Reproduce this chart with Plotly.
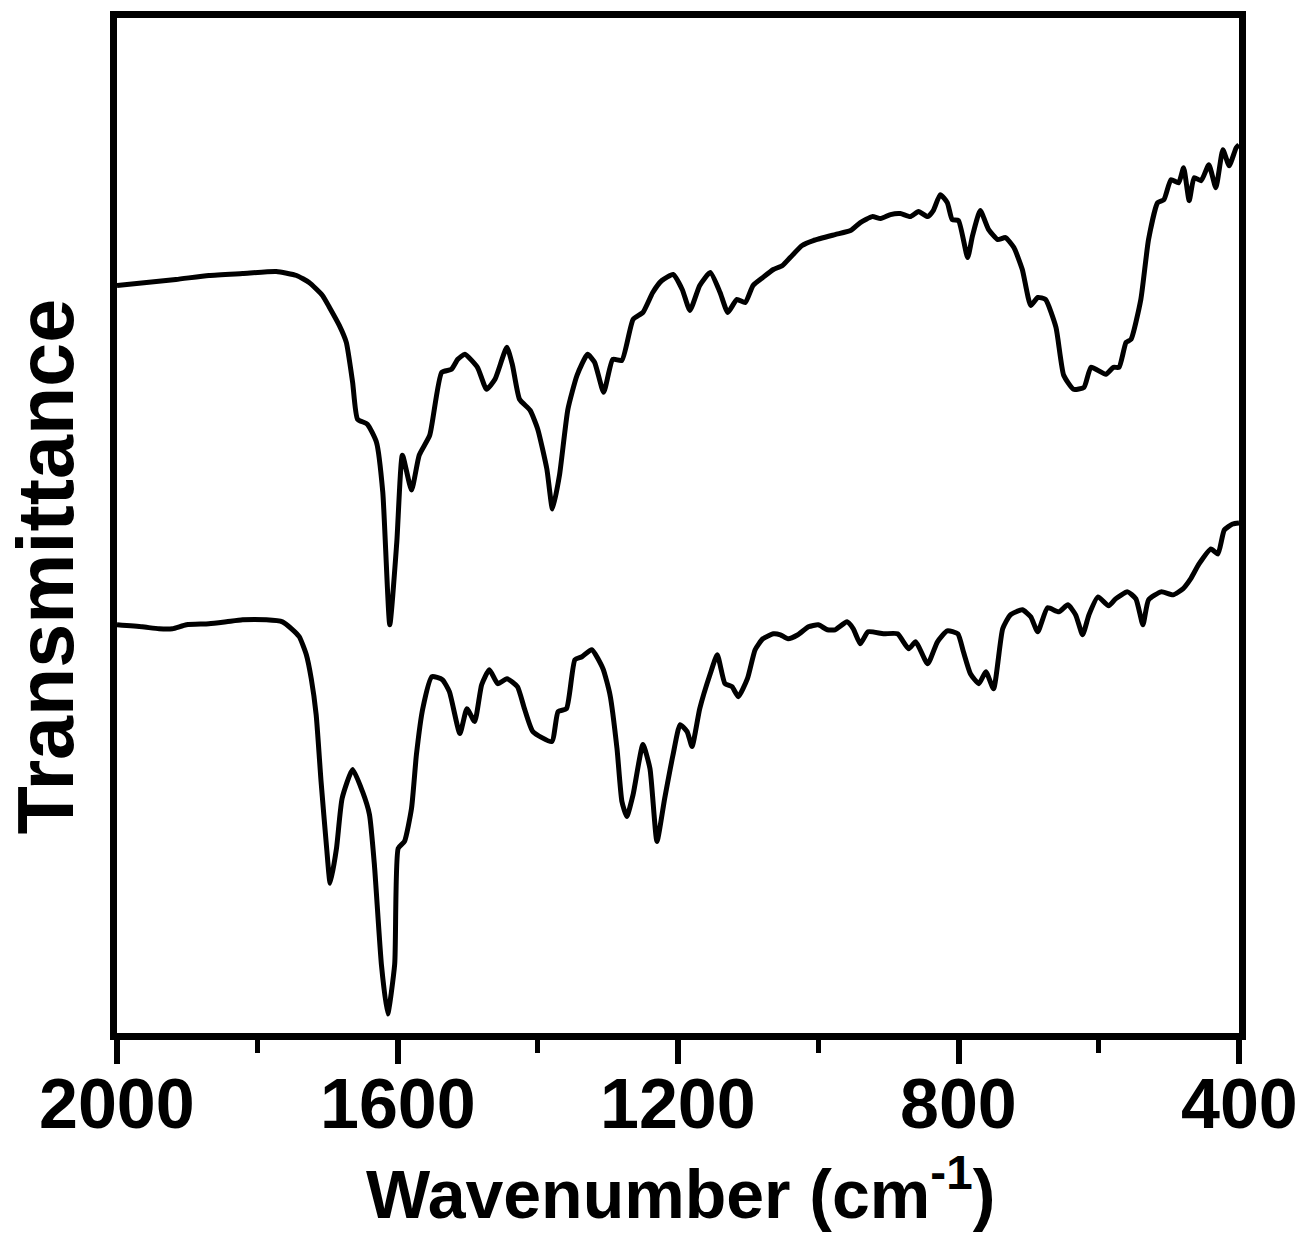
import plotly.graph_objects as go

# Wavenumber (cm-1) and transmittance (arbitrary units) for the upper spectrum
wn_top = [2000, 1916, 1869, 1821, 1773, 1744, 1726, 1707, 1697, 1683, 1673, 1664, 1657, 1643, 1630,
          1621, 1611, 1601, 1593, 1580, 1569, 1554, 1537, 1523, 1514, 1504, 1486, 1473, 1461, 1444,
          1436, 1426, 1411, 1400, 1387, 1379, 1369, 1357, 1344, 1329, 1319, 1306, 1293, 1280, 1264,
          1250, 1236, 1223, 1207, 1194, 1183, 1169, 1154, 1140, 1129, 1116, 1104, 1093, 1079, 1064,
          1051, 1040, 1023, 1007, 976, 954, 940, 923, 911, 897, 883, 869, 857, 844, 836, 826, 816,
          809, 800, 787, 780, 769, 757, 744, 733, 721, 709, 697, 687, 676, 661, 650, 636, 621, 611,
          590, 579, 571, 561, 554, 540, 529, 516, 507, 497, 486, 479, 471, 464, 454, 443, 433, 423,
          414, 404, 400]
t_top = [749, 755, 759, 761, 763, 759, 752, 739, 727, 709, 692, 652, 615, 610, 592,
         542, 409, 492, 579, 544, 579, 599, 662, 665, 675, 680, 667, 645, 655, 687,
         669, 635, 624, 605, 565, 525, 559, 625, 659, 680, 672, 642, 675, 674, 715,
         722, 742, 754, 760, 745, 724, 749, 762, 742, 722, 735, 732, 749, 757, 765,
         769, 777, 789, 794, 800, 804, 812, 818, 816, 820, 821, 818, 823, 818, 824, 840, 832,
         815, 814, 777, 799, 824, 805, 795, 797, 787, 765, 729, 737, 735, 707, 659, 645, 647, 667,
         660, 667, 667, 692, 695, 735, 795, 832, 835, 855, 852, 867, 834, 857, 854, 870, 847, 885,
         869, 887, 890]

# Lower spectrum
wn_bot = [2000, 1964, 1940, 1921, 1901, 1869, 1844, 1821, 1787, 1764, 1751, 1740, 1730, 1723, 1716,
          1709, 1701, 1696, 1687, 1679, 1664, 1650, 1640, 1633, 1623, 1614, 1604, 1599, 1590, 1580,
          1573, 1564, 1551, 1536, 1526, 1511, 1501, 1490, 1480, 1469, 1457, 1444, 1429, 1419, 1407,
          1380, 1371, 1359, 1347, 1337, 1323, 1307, 1297, 1287, 1280, 1273, 1264, 1250, 1240, 1230,
          1219, 1207, 1197, 1187, 1180, 1169, 1154, 1144, 1133, 1123, 1114, 1101, 1090, 1079, 1064,
          1054, 1043, 1029, 1014, 1000, 987, 976, 959, 950, 940, 929, 907, 887, 871, 861, 844, 830,
          816, 801, 793, 783, 771, 761, 750, 737, 726, 709, 697, 687, 673, 657, 644, 633, 623, 614,
          601, 586, 576, 559, 547, 537, 529, 511, 494, 480, 469, 457, 440, 430, 421, 409, 400]
t_bot = [409, 407, 405, 405, 409, 410, 412, 414, 414, 412, 405, 397, 379, 355, 319,
         252, 185, 150, 185, 235, 264, 242, 219, 169, 69, 19, 69, 185, 192, 225,
         279, 325, 357, 354, 342, 300, 325, 312, 349, 364, 350, 355, 347, 325, 302,
         292, 322, 325, 374, 377, 384, 365, 339, 285, 232, 217, 239, 289, 265, 192,
         235, 279, 309, 302, 287, 325, 360, 379, 350, 347, 337, 355, 384, 395, 400,
         399, 395, 399, 407, 409, 404, 404, 412, 405, 390, 402, 400, 400, 385, 392, 370, 392,
         403, 400, 382, 360, 350, 362, 345, 405, 419, 424, 417, 402, 426, 422, 429, 419, 399, 419,
         437, 428, 435, 442, 435, 409, 434, 442, 439, 445, 455, 470, 485, 480, 504, 510, 511]

x_ticks = [2000, 1600, 1200, 800, 400]
x_title = "Wavenumber (cm<sup>-1</sup>)"
y_title = "Transmittance"

FONT = "Liberation Sans, Arial, sans-serif"

fig = go.Figure()
for wn, t in [(wn_top, t_top), (wn_bot, t_bot)]:
    fig.add_trace(go.Scatter(x=wn, y=t, mode="lines",
                             line=dict(color="black", width=5, shape="spline", smoothing=0.5),
                             showlegend=False, hoverinfo="skip"))

fig.update_layout(
    width=1303, height=1242,
    margin=dict(l=117, r=64, t=18, b=209, autoexpand=False),
    paper_bgcolor="white", plot_bgcolor="white",
    font=dict(family=FONT, color="black", weight="bold"),
)
fig.update_xaxes(
    range=[2000, 400], autorange=False, automargin=False,
    tickvals=x_ticks, showticklabels=False,
    ticks="outside", ticklen=24, tickwidth=6, tickcolor="black",
    minor=dict(dtick=200, tick0=0, ticks="outside", ticklen=13, tickwidth=5, tickcolor="black"),
    showline=True, linewidth=6.5, linecolor="black", mirror=True,
    showgrid=False, zeroline=False,
)
fig.update_yaxes(
    range=[0, 1017], autorange=False, automargin=False,
    showticklabels=False, ticks="",
    showline=True, linewidth=6.5, linecolor="black", mirror=True,
    showgrid=False, zeroline=False,
)

# Tick labels
for v in x_ticks:
    fig.add_annotation(x=v, xref="x", y=-0.0695, yref="paper", text=str(v),
                       showarrow=False, xanchor="center", yanchor="middle",
                       font=dict(size=70, family=FONT, weight="bold", color="black"))

# Axis titles
fig.add_annotation(x=0.502, xref="paper", y=-0.154, yref="paper", text=x_title,
                   showarrow=False, xanchor="center", yanchor="middle",
                   font=dict(size=68, family=FONT, weight="bold", color="black"))
fig.add_annotation(x=-0.0638, xref="paper", y=0.46, yref="paper", text=y_title, textangle=-90,
                   showarrow=False, xanchor="center", yanchor="middle",
                   font=dict(size=79, family=FONT, weight="bold", color="black"))

fig.write_html("out.html",
               config={"displayModeBar": False},
               post_script="document.body.style.margin='0';document.body.style.overflow='hidden';")
